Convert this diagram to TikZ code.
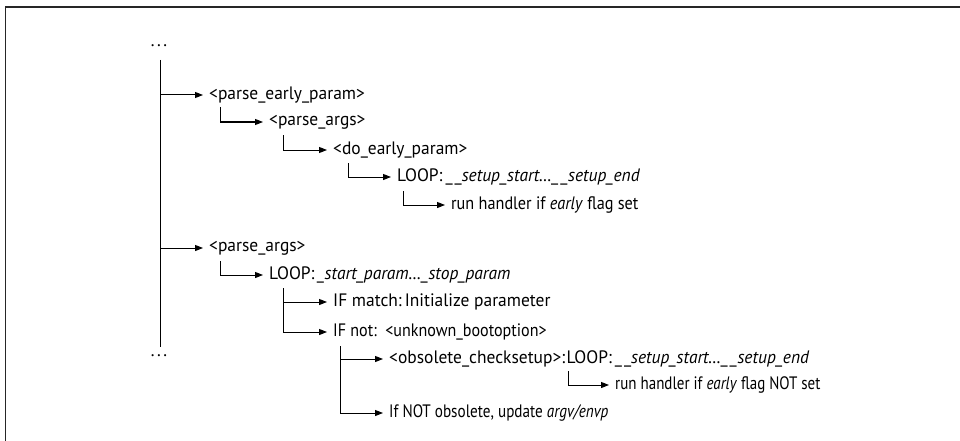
\documentclass[tikz,border=0pt]{standalone}
\usepackage{fontspec}
\setmainfont{PT Sans}[FakeStretch=0.97]
\usetikzlibrary{arrows.meta}
\newcommand{\uu}{\_\kern2pt\_}
\newcommand{\sx}[2]{\scalebox{#1}[1]{#2}}
\begin{document}
\begin{tikzpicture}[x=1pt,y=-1pt,
  lbl/.style={anchor=west,inner xsep=0pt,inner ysep=2pt,font=\fontsize{18}{20}\selectfont},
  arr/.style={-{Triangle[length=8pt,width=6pt]},line width=1pt,shorten >=6pt},
  frame/.style={line width=1.4pt,draw=black!85}]
\useasboundingbox (0,0) rectangle (960,441);
\draw[frame] (5.5,441) -- (5.5,7) -- (960,7);
% dots
\node[lbl,anchor=base] (dtop) at (159,47) {.\kern2.5pt.\kern2.5pt.};
\node[lbl,anchor=base] (dbot) at (159,356) {.\kern2.5pt.\kern2.5pt.};
\coordinate (vtop) at (160,60);
\coordinate (vbot) at (160,347);
\draw[line width=1pt] (vtop) -- (vbot);
% text nodes
\node[lbl] (pep) at (209,95) {<parse\_early\_param>};
\node[lbl] (pa1) at (269,122) {<parse\_args>};
\node[lbl] (dep) at (333,150) {<do\_early\_param>};
\node[lbl] (lp1) at (397,177) {LOOP:\,\uu\textit{setup\_start\dots\uu setup\_end}};
\node[lbl] (rh1) at (451,205) {\sx{0.93}{run handler if \textit{early} flag set}};
\node[lbl] (pa2) at (209,248) {<parse\_args>};
\node[lbl] (lp2) at (269,275) {LOOP:\,\textit{\_start\_param\dots\_stop\_param}};
\node[lbl] (ifm) at (333,302) {IF match:\,Initialize parameter};
\node[lbl] (ifn) at (333,332) {\sx{0.92}{IF not: \,<unknown\_bootoption>}};
\node[lbl] (obs) at (389,359) {<obsolete\_checksetup>:};
\node[lbl,anchor=base west] (lp3) at ([xshift=1pt]obs.base east) {LOOP:\,\uu\textit{setup\_start\dots\uu setup\_end}};
\node[lbl] (rh2) at (615,385) {\sx{0.86}{run handler if \textit{early} flag NOT set}};
\node[lbl] (ifo) at (389,413) {\sx{0.87}{If NOT obsolete, update \textit{argv/envp}}};
% bracket tops
\coordinate (b1) at (220,107);
\coordinate (b2) at (283,135);
\coordinate (b3) at (348,163);
\coordinate (b4) at (403,191);
\coordinate (b5) at (220,261);
\coordinate (b6) at (283,288);
\coordinate (b7) at (340,346);
\coordinate (b8) at (568,371);
% connectors
\draw[arr] (vtop |- pep.west) -- (pep.west);
\draw[arr] (vtop |- pa2.west) -- (pa2.west);
\draw[arr] (b1) |- (pa1.west);
\draw[arr] (b2) |- (dep.west);
\draw[arr] (b3) |- (lp1.west);
\draw[arr] (b4) |- (rh1.west);
\draw[arr] (b5) |- (lp2.west);
\draw[arr] (b6) |- (ifm.west);
\draw[arr] (b6) |- (ifn.west);
\draw[arr] (b7) |- (obs.west);
\draw[arr] (b7) |- (ifo.west);
\draw[arr] (b8) |- (rh2.west);
\end{tikzpicture}
\end{document}
